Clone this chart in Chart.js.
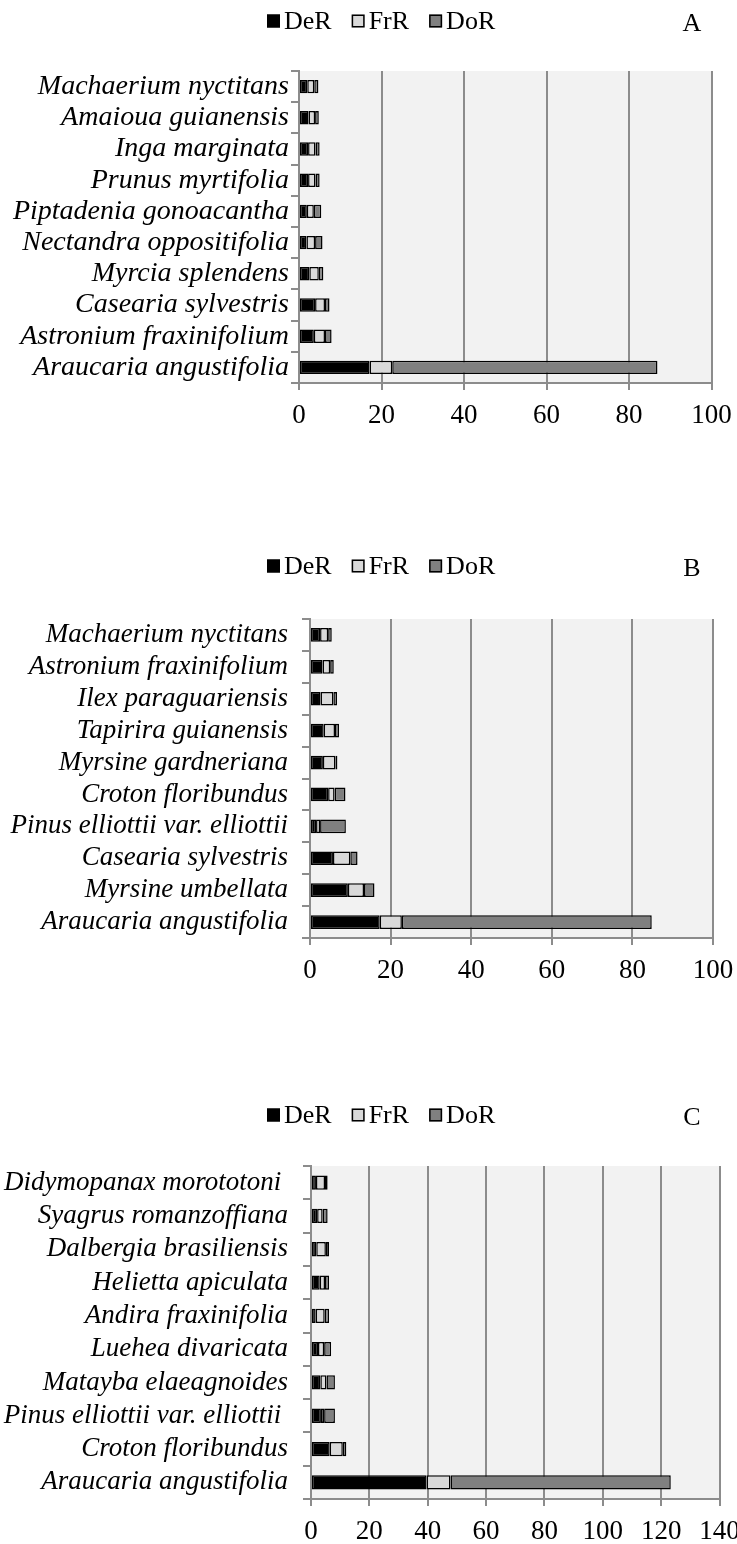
<!DOCTYPE html>
<html>
<head>
<meta charset="utf-8">
<script src="https://cdn.jsdelivr.net/npm/chart.js@4.4.1/dist/chart.umd.min.js"></script>
<style>
  html, body { margin: 0; padding: 0; background: #ffffff; }
  body { width: 737px; height: 1544px; overflow: hidden; position: relative; }
  .panel { position: absolute; left: 0; }
</style>
</head>
<body>
<div class="panel" style="top:0px"><canvas id="chartA" width="760" height="443"></canvas></div>
<div class="panel" style="top:548px"><canvas id="chartB" width="760" height="450"></canvas></div>
<div class="panel" style="top:1095px"><canvas id="chartC" width="760" height="464"></canvas></div>
<script>
// Relative density (DeR), relative frequency (FrR) and relative dominance (DoR)
const seriesNames = ['DeR', 'FrR', 'DoR'];

// Panel A
const speciesA = ['Machaerium nyctitans', 'Amaioua guianensis', 'Inga marginata', 'Prunus myrtifolia',
  'Piptadenia gonoacantha', 'Nectandra oppositifolia', 'Myrcia splendens', 'Casearia sylvestris',
  'Astronium fraxinifolium', 'Araucaria angustifolia'];
const derA = [2.0, 2.3, 2.2, 2.2, 1.9, 1.8, 2.5, 3.9, 3.6, 17.1];
const frrA = [1.7, 1.6, 1.8, 1.8, 1.7, 2.1, 2.3, 2.4, 2.7, 5.5];
const dorA = [1.0, 0.9, 1.0, 1.0, 1.8, 1.8, 1.1, 1.1, 1.6, 64.3];
const xMaxA = 100;

// Panel B
const speciesB = ['Machaerium nyctitans', 'Astronium fraxinifolium', 'Ilex paraguariensis', 'Tapirira guianensis',
  'Myrsine gardneriana', 'Croton floribundus', 'Pinus elliottii var. elliottii', 'Casearia sylvestris',
  'Myrsine umbellata', 'Araucaria angustifolia'];
const derB = [2.5, 3.1, 2.6, 3.4, 3.2, 4.5, 1.5, 5.7, 9.4, 17.3];
const frrB = [2.0, 1.9, 3.2, 2.8, 3.1, 1.6, 1.0, 4.3, 4.0, 5.5];
const dorB = [0.9, 0.9, 0.9, 1.0, 0.5, 2.7, 6.4, 1.8, 2.6, 62.0];
const xMaxB = 100;

// Panel C
const speciesC = ['Didymopanax morototoni ', 'Syagrus romanzoffiana', 'Dalbergia brasiliensis', 'Helietta apiculata',
  'Andira fraxinifolia', 'Luehea divaricata', 'Matayba elaeagnoides', 'Pinus elliottii var. elliottii ',
  'Croton floribundus', 'Araucaria angustifolia'];
const derC = [1.7, 2.1, 1.8, 3.0, 1.6, 2.4, 3.2, 3.4, 6.4, 39.6];
const frrC = [3.1, 1.9, 3.3, 1.8, 3.1, 2.1, 2.1, 1.1, 4.5, 8.2];
const dorC = [0.9, 1.7, 1.1, 1.4, 1.5, 2.4, 2.9, 3.7, 1.2, 75.5];
const xMaxC = 140;

const xStep = 20;
const fills = ['#000000', '#d9d9d9', '#808080'];
const axisGray = '#8c8c8c';
const serif = "'Liberation Serif', 'Times New Roman', serif";

// plot-area background
const plotBackground = {
  id: 'plotBackground',
  beforeDraw(chart) {
    const { ctx, chartArea: a } = chart;
    ctx.save();
    ctx.fillStyle = '#f2f2f2';
    ctx.fillRect(a.left, a.top, a.right - a.left, a.bottom - a.top);
    ctx.restore();
  }
};

// legend row and panel letter drawn above the plot
function keyRow(letter, x0, y, letterX) {
  return {
    id: 'keyRow',
    afterDraw(chart) {
      const ctx = chart.ctx;
      ctx.save();
      ctx.font = '26px ' + serif;
      ctx.textBaseline = 'middle';
      let x = x0;
      chart.data.datasets.forEach(ds => {
        const s = 13;
        ctx.fillStyle = ds.backgroundColor;
        ctx.fillRect(x, y - s / 2, s, s);
        ctx.strokeStyle = '#000';
        ctx.lineWidth = 1.5;
        ctx.strokeRect(x + 0.75, y - s / 2 + 0.75, s - 1.5, s - 1.5);
        x += s + 4;
        ctx.fillStyle = '#000';
        ctx.textAlign = 'left';
        ctx.fillText(ds.label, x, y + 1);
        x += ctx.measureText(ds.label).width + 20;
      });
      ctx.textAlign = 'center';
      ctx.fillText(letter, letterX, y + 3);
      ctx.restore();
    }
  };
}

function makePanel(id, labels, der, frr, dor, xMax, geom) {
  const values = [der, frr, dor];
  new Chart(document.getElementById(id), {
    type: 'bar',
    data: {
      labels: labels,
      datasets: seriesNames.map((name, i) => ({
        label: name,
        data: values[i],
        backgroundColor: fills[i],
        borderColor: '#000000',
        borderWidth: 1.5,
        borderSkipped: false,
        categoryPercentage: 1.0,
        barPercentage: 0.43
      }))
    },
    options: {
      indexAxis: 'y',
      responsive: false,
      animation: false,
      layout: { padding: { left: 0, right: geom.padRight, top: geom.top, bottom: 0 } },
      plugins: { legend: { display: false }, tooltip: { enabled: false } },
      scales: {
        x: {
          stacked: true,
          min: 0,
          max: xMax,
          ticks: { stepSize: xStep, color: '#000', font: { family: serif, size: 27 }, padding: 10, maxRotation: 0 },
          grid: { color: axisGray, lineWidth: 2, tickLength: 7, drawOnChartArea: true },
          border: { color: axisGray, width: 2 },
          afterFit(scale) { scale.height = 60; }
        },
        y: {
          stacked: true,
          ticks: { color: '#000', font: { family: serif, size: geom.labelSize, style: 'italic' },
                   padding: geom.labelGap, autoSkip: false },
          grid: { color: axisGray, lineWidth: 2, tickLength: 8, drawOnChartArea: false },
          border: { color: axisGray, width: 2 },
          afterFit(scale) { scale.width = geom.left; }
        }
      }
    },
    plugins: [plotBackground, keyRow(geom.letter, geom.keyX, geom.keyY, geom.letterX)]
  });
}

makePanel('chartA', speciesA, derA, frrA, dorA, xMaxA,
  { left: 299, padRight: 48.5, top: 71, labelSize: 28, labelGap: 2, letter: 'A', keyX: 267, keyY: 21, letterX: 692 });
makePanel('chartB', speciesB, derB, frrB, dorB, xMaxB,
  { left: 310, padRight: 47, top: 71, labelSize: 27, labelGap: 14, letter: 'B', keyX: 267, keyY: 18, letterX: 692 });
makePanel('chartC', speciesC, derC, frrC, dorC, xMaxC,
  { left: 311, padRight: 40.5, top: 71, labelSize: 27, labelGap: 15, letter: 'C', keyX: 267, keyY: 20, letterX: 692 });
</script>
</body>
</html>
